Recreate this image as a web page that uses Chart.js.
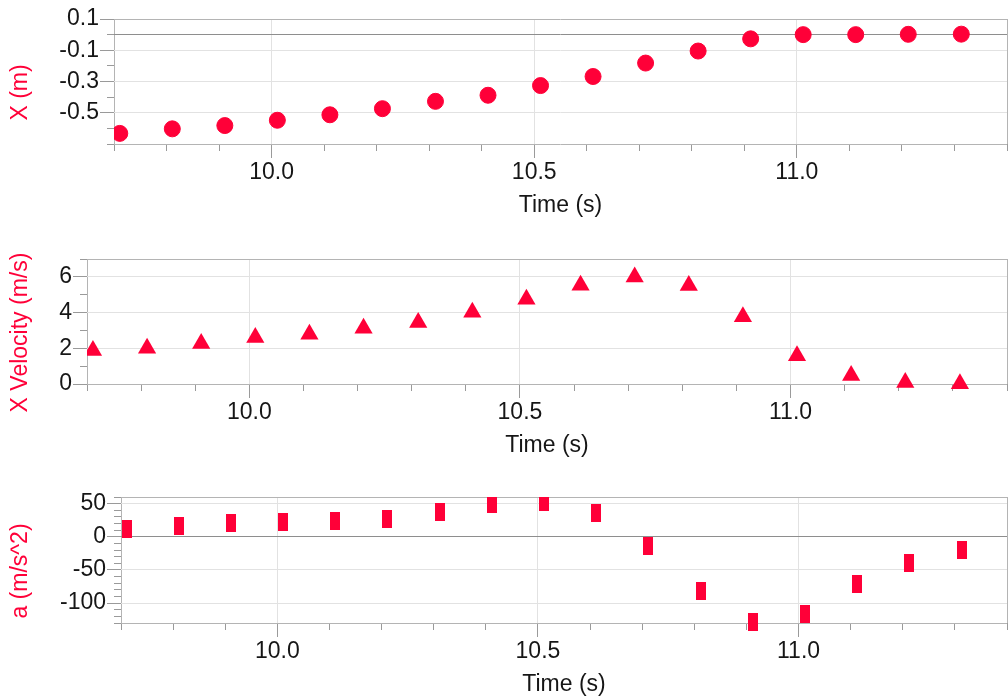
<!DOCTYPE html>
<html>
<head>
<meta charset="utf-8">
<script src="https://cdn.jsdelivr.net/npm/chart.js@4.4.1/dist/chart.umd.min.js"></script>
<style>
  html, body { margin: 0; padding: 0; background: #fff; }
  body { width: 1008px; height: 699px; position: relative; overflow: hidden; }
  .box { position: absolute; left: 0; width: 1008px; }
  #b1 { top: 0; height: 219px; }
  #b2 { top: 230px; height: 229px; }
  #b3 { top: 470px; height: 228px; }
</style>
</head>
<body>
<div class="box" id="b1"><canvas id="c1"></canvas></div>
<div class="box" id="b2"><canvas id="c2"></canvas></div>
<div class="box" id="b3"><canvas id="c3"></canvas></div>
<script>
// data
const times = [9.711, 9.811, 9.911, 10.011, 10.111, 10.211, 10.312, 10.412, 10.512,
               10.612, 10.712, 10.812, 10.912, 11.012, 11.112, 11.212, 11.313];
const xPos = [-0.632, -0.603, -0.582, -0.548, -0.513, -0.474, -0.427, -0.388, -0.326,
              -0.268, -0.182, -0.105, -0.027, 0.0, 0.0, 0.002, 0.003];
const xVel = [1.88, 2.0, 2.27, 2.6, 2.79, 3.12, 3.44, 4.02, 4.74,
              5.53, 5.99, 5.51, 3.76, 1.58, 0.48, 0.09, 0.02];
const accel = [11.9, 15.7, 20.2, 21.8, 23.5, 27.1, 37.2, 49.8, 52.4,
               35.2, -14, -81.8, -128.4, -116, -71, -39, -20];

const timeTicks = [10.0, 10.5, 11.0];
const posTicks = [-0.5, -0.3, -0.1, 0.1];
const velTicks = [0, 2, 4, 6];
const accTicks = [-100, -50, 0, 50];

const red = '#ff0038';
const ink = '#161616';
const light = '#e2e2e2';
const frame = '#b4b4b4';
const zeroLine = '#8e8e8e';
const tickGray = '#9a9a9a';

Chart.defaults.font.family = "'Liberation Sans', Arial, sans-serif";
Chart.defaults.font.size = 23;

// bar shaped marker for the acceleration plot
const barMark = document.createElement('canvas');
barMark.width = 10;
barMark.height = 18;
const bctx = barMark.getContext('2d');
bctx.fillStyle = red;
bctx.fillRect(0, 0, 10, 18);

// y titles sit a little below the middle of the plot in the original
const shiftYTitle = {
  id: 'shiftYTitle',
  afterLayout(chart) {
    chart.scales.y.bottom += 22;
  }
};

function makeChart(id, cfg) {
  const ctx = document.getElementById(id).getContext('2d');
  return new Chart(ctx, {
    type: 'scatter',
    data: {
      datasets: [{
        data: cfg.values.map((v, i) => ({ x: times[i], y: v })),
        pointStyle: cfg.pointStyle,
        pointRadius: cfg.radius,
        backgroundColor: red,
        borderColor: red,
        borderWidth: cfg.border,
        clip: 0
      }]
    },
    plugins: [shiftYTitle],
    options: {
      animation: false,
      responsive: true,
      maintainAspectRatio: false,
      devicePixelRatio: 1,
      events: [],
      layout: { autoPadding: false, padding: { top: cfg.padTop, right: 1, left: 0, bottom: 0 } },
      plugins: { legend: { display: false }, tooltip: { enabled: false } },
      scales: {
        x: {
          type: 'linear', position: 'bottom', weight: 1,
          min: 9.7, max: 11.4,
          afterBuildTicks: s => { s.ticks = timeTicks.map(v => ({ value: v })); },
          afterFit: s => { s.height = 75; },
          ticks: { padding: 1, color: ink, autoSkip: false, maxRotation: 0,
                   callback: v => v.toFixed(1) },
          grid: { color: light, tickColor: tickGray, tickLength: 14 },
          border: { display: false },
          title: { display: true, text: 'Time (s)', color: ink, padding: 0 }
        },
        x2: {
          type: 'linear', position: 'bottom', weight: 0,
          min: 9.7, max: 11.4,
          afterFit: s => { s.height = 0; },
          ticks: { display: false, stepSize: 0.1 },
          grid: {
            tickColor: tickGray, tickLength: 7,
            color: c => (c.index === 0 || c.index === c.scale.ticks.length - 1) ? frame : 'transparent'
          },
          border: { display: false }
        },
        y: {
          type: 'linear', position: 'left', weight: 1,
          min: cfg.yMin, max: cfg.yMax,
          afterBuildTicks: s => { s.ticks = cfg.yTicks.map(v => ({ value: v })); },
          afterFit: s => { s.width = cfg.yWidth; },
          ticks: { padding: 1, color: ink, autoSkip: false, callback: cfg.fmt },
          grid: {
            tickColor: tickGray, tickLength: 14,
            color: c => {
              const v = c.tick ? c.tick.value : NaN;
              if (Math.abs(v) < 1e-9 || Math.abs(v - cfg.yMin) < 1e-9 || Math.abs(v - cfg.yMax) < 1e-9) return 'transparent';
              return light;
            }
          },
          border: { display: false },
          title: { display: true, text: cfg.yTitle, color: red, padding: { top: 7, bottom: 0 } }
        },
        y2: {
          type: 'linear', position: 'left', weight: 0,
          min: cfg.yMin, max: cfg.yMax,
          afterFit: s => { s.width = 0; },
          ticks: { display: false, stepSize: cfg.yMinor },
          grid: {
            tickColor: tickGray, tickLength: 7,
            color: c => {
              const n = c.scale.ticks.length;
              if (c.index === 0 || c.index === n - 1) return frame;
              if (c.tick && Math.abs(c.tick.value) < 1e-9) return zeroLine;
              return 'transparent';
            }
          },
          border: { display: false }
        }
      }
    }
  });
}

makeChart('c1', {
  values: xPos, pointStyle: 'circle', radius: 8, border: 1,
  padTop: 19, yWidth: 114, yMin: -0.7, yMax: 0.1, yMinor: 0.1,
  yTicks: posTicks, fmt: v => v.toFixed(1), yTitle: 'X (m)'
});

makeChart('c2', {
  values: xVel, pointStyle: 'triangle', radius: 10.5, border: 0,
  padTop: 29, yWidth: 87, yMin: 0, yMax: 7, yMinor: 1,
  yTicks: velTicks, fmt: v => String(v), yTitle: 'X Velocity (m/s)'
});

makeChart('c3', {
  values: accel, pointStyle: barMark, radius: 9, border: 0,
  padTop: 27, yWidth: 121, yMin: -130, yMax: 60, yMinor: 10,
  yTicks: accTicks, fmt: v => String(v), yTitle: 'a (m/s^2)'
});
</script>
</body>
</html>
